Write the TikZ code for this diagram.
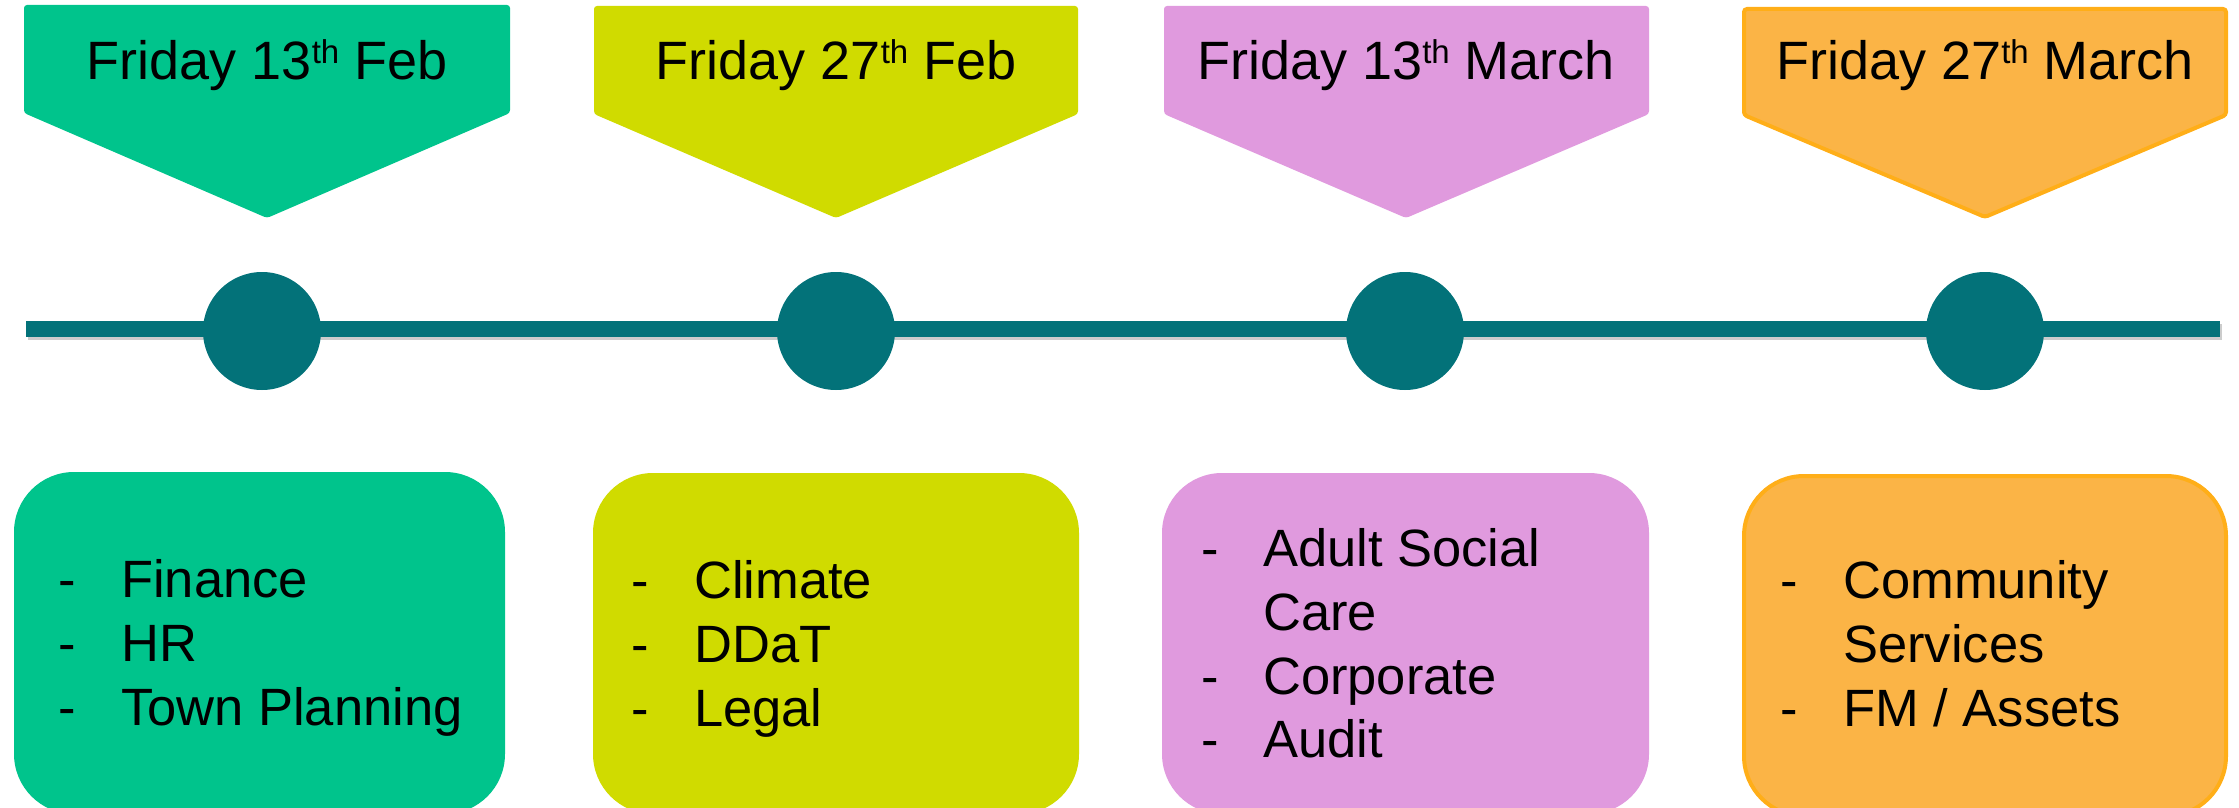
\documentclass[tikz,border=0pt]{standalone}
\usepackage{fontspec}
\setmainfont{Liberation Sans}
\definecolor{cgreen}{RGB}{0,196,140}
\definecolor{cyellow}{RGB}{208,219,0}
\definecolor{cpink}{RGB}{224,154,222}
\definecolor{corange}{RGB}{251,180,70}
\definecolor{corangeb}{RGB}{255,174,24}
\definecolor{cteal}{RGB}{3,114,121}
\newcommand{\myth}{\raisebox{17pt}{\fontsize{33}{33}\selectfont th}}
\begin{document}
\begin{tikzpicture}[x=1pt,y=-1pt,
  datetext/.style={anchor=base, inner sep=0, font=\fontsize{54}{64}\selectfont},
  itemtext/.style={anchor=base west, inner sep=0, font=\fontsize{52.5}{64}\selectfont},
  dot/.style={circle, fill=cteal, minimum size=118pt, inner sep=0},
  box/.style={rounded corners=60pt}]
\useasboundingbox (0,0) rectangle (2239,808);
\clip (0,0) rectangle (2239,808);
% top banners
\fill[cgreen, rounded corners=3pt] (24,5) -- (510,5) -- (510,113) -- (267,218) -- (24,113) -- cycle;
\fill[cyellow, rounded corners=3pt] (594,6) -- (1078,6) -- (1078,114) -- (836,218) -- (594,114) -- cycle;
\fill[cpink, rounded corners=3pt] (1164,6) -- (1649,6) -- (1649,114) -- (1406,218) -- (1164,114) -- cycle;
\filldraw[fill=corange, draw=corangeb, line width=4pt, rounded corners=3pt] (1744,9) -- (2226,9) -- (2226,115) -- (1985,217) -- (1744,115) -- cycle;
\node[datetext] (d1) at (267,80) {Friday 13\myth{} Feb};
\node[datetext] (d2) at (836,80) {Friday 27\myth{} Feb};
\node[datetext] (d3) at (1406,80) {Friday 13\myth{} March};
\node[datetext] (d4) at (1985,80) {Friday 27\myth{} March};
% timeline
\coordinate (ls) at (26,329);
\coordinate (le) at (2220,329);
\draw[black!20, line width=16pt] ([shift={(2,3)}]ls) -- ([shift={(2,3)}]le);
\draw[cteal, line width=16pt] (ls) -- (le);
\node[dot] (c1) at (262,331) {};
\node[dot] (c2) at (836,331) {};
\node[dot] (c3) at (1405,331) {};
\node[dot] (c4) at (1985,331) {};
% bottom boxes
\fill[cgreen, box] (14,472) rectangle (505,814);
\fill[cyellow, box] (593,473) rectangle (1079,814);
\fill[cpink, box] (1162,473) rectangle (1649,814);
\filldraw[fill=corange, draw=corangeb, line width=4pt, box] (1744,476) rectangle (2226,816);
% items
\node[itemtext] (g1d) at (58,597) {-};
\node[itemtext] (g1) at (121,597) {Finance};
\node[itemtext] (g2d) at (58,661) {-};
\node[itemtext] (g2) at (121,661) {HR};
\node[itemtext] (g3d) at (58,725) {-};
\node[itemtext] (g3) at (121,725) {Town Planning};
\node[itemtext] (y1d) at (631,598) {-};
\node[itemtext] (y1) at (694,598) {Climate};
\node[itemtext] (y2d) at (631,662) {-};
\node[itemtext] (y2) at (694,662) {DDaT};
\node[itemtext] (y3d) at (631,726) {-};
\node[itemtext] (y3) at (694,726) {Legal};
\node[itemtext] (p1d) at (1201,566) {-};
\node[itemtext] (p1) at (1263,566) {Adult Social};
\node[itemtext] (p1b) at (1263,630) {Care};
\node[itemtext] (p2d) at (1201,694) {-};
\node[itemtext] (p2) at (1263,694) {Corporate};
\node[itemtext] (p3d) at (1201,757) {-};
\node[itemtext] (p3) at (1263,757) {Audit};
\node[itemtext] (o1d) at (1780,598) {-};
\node[itemtext] (o1) at (1843,598) {Community};
\node[itemtext] (o1b) at (1843,662) {Services};
\node[itemtext] (o2d) at (1780,726) {-};
\node[itemtext] (o2) at (1843,726) {FM / Assets};
\end{tikzpicture}
\end{document}
